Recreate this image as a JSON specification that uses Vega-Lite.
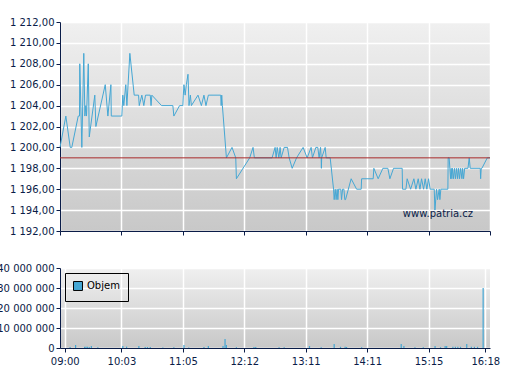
{
  "$schema": "https://vega.github.io/schema/vega-lite/v6.json",
  "background": "white",
  "padding": {"left": -4, "top": 17, "right": 10, "bottom": 5},
  "spacing": 27,
  "resolve": {"scale": {"color": "independent"}, "legend": {"color": "independent"}},
  "config": {
    "locale": {"number": {"decimal": ",", "thousands": " ", "grouping": [3], "currency": ["", ""]}},
    "font": "DejaVu Sans",
    "view": {
      "stroke": null,
      "fill": {"gradient": "linear", "x1": 0, "y1": 0, "x2": 0, "y2": 1,
        "stops": [{"offset": 0, "color": "#f0f0f0"}, {"offset": 1, "color": "#c8c8c8"}]}
    },
    "axis": {
      "labelFont": "DejaVu Sans", "labelFontSize": 10, "labelColor": "#0a1c48",
      "domainColor": "#0a1c48", "tickColor": "#0a1c48", "tickSize": 4, "labelPadding": 2,
      "gridColor": "#ffffff", "gridWidth": 1.5, "gridOpacity": 1, "title": null
    }
  },
  "datasets": {
    "price": [
      {"t":0,"p":1200},{"t":6.0,"p":1203},{"t":10.5,"p":1200},{"t":12.1,"p":1200},{"t":18.7,"p":1203},{"t":20.0,"p":1203},{"t":20.3,"p":1208},{"t":22.4,"p":1200},{"t":24.4,"p":1209},{"t":25.5,"p":1203},{"t":26.5,"p":1204},{"t":27.2,"p":1203},{"t":29.0,"p":1208},{"t":30.0,"p":1201},{"t":35.7,"p":1205},{"t":36.8,"p":1202},{"t":46.4,"p":1206},{"t":49.1,"p":1203},{"t":52.2,"p":1206},{"t":52.6,"p":1203},{"t":63.4,"p":1203},{"t":64.4,"p":1205},{"t":65.4,"p":1204},{"t":67.4,"p":1206},{"t":68.5,"p":1204},{"t":71.5,"p":1209},{"t":75.9,"p":1205},{"t":80.3,"p":1205},{"t":81.0,"p":1204},{"t":83.6,"p":1205},{"t":85.6,"p":1204},{"t":87.3,"p":1205},{"t":92.1,"p":1205},{"t":92.9,"p":1204},{"t":93.7,"p":1205},{"t":103.5,"p":1204},{"t":114.9,"p":1204},{"t":115.9,"p":1203},{"t":121.7,"p":1204},{"t":125.0,"p":1204},{"t":125.5,"p":1205},{"t":126.2,"p":1206},{"t":127.5,"p":1205},{"t":128.8,"p":1206},{"t":130.6,"p":1207},{"t":131.7,"p":1204},{"t":133.2,"p":1205},{"t":134.3,"p":1204},{"t":141.5,"p":1205},{"t":145.2,"p":1204},{"t":148.0,"p":1205},{"t":150.2,"p":1204},{"t":152.8,"p":1205},{"t":166.3,"p":1205},{"t":166.8,"p":1204},{"t":167.4,"p":1205},{"t":168.1,"p":1204},{"t":169.0,"p":1203},{"t":172.5,"p":1199},{"t":178.6,"p":1200},{"t":182.7,"p":1199},{"t":183.4,"p":1197},{"t":197.2,"p":1199},{"t":200.4,"p":1200},{"t":201.7,"p":1199},{"t":218.7,"p":1199},{"t":221.6,"p":1200},{"t":222.6,"p":1199},{"t":223.6,"p":1200},{"t":225.2,"p":1199},{"t":226.4,"p":1200},{"t":227.4,"p":1199},{"t":230.3,"p":1200},{"t":233.5,"p":1200},{"t":235.1,"p":1199},{"t":238.0,"p":1198},{"t":242.2,"p":1199},{"t":248.5,"p":1200},{"t":252.4,"p":1199},{"t":256.3,"p":1200},{"t":257.6,"p":1199},{"t":260.9,"p":1200},{"t":262.8,"p":1200},{"t":264.1,"p":1199},{"t":265.5,"p":1200},{"t":266.1,"p":1199},{"t":266.3,"p":1198},{"t":266.6,"p":1199},{"t":270.0,"p":1200},{"t":271.0,"p":1199},{"t":274.9,"p":1199},{"t":278.2,"p":1196},{"t":278.8,"p":1195},{"t":279.8,"p":1196},{"t":280.7,"p":1195},{"t":281.7,"p":1196},{"t":282.4,"p":1195},{"t":283.1,"p":1196},{"t":285.3,"p":1196},{"t":286.0,"p":1195},{"t":287.0,"p":1196},{"t":288.3,"p":1196},{"t":289.2,"p":1195},{"t":289.9,"p":1195},{"t":295.4,"p":1197},{"t":300.7,"p":1196},{"t":305.2,"p":1196},{"t":305.6,"p":1197},{"t":317.3,"p":1197},{"t":318.0,"p":1198},{"t":322.5,"p":1197},{"t":327.4,"p":1198},{"t":332.6,"p":1198},{"t":334.7,"p":1197},{"t":338.5,"p":1198},{"t":347.5,"p":1198},{"t":347.9,"p":1196},{"t":351.4,"p":1196},{"t":352.7,"p":1197},{"t":356.3,"p":1196},{"t":359.7,"p":1197},{"t":361.8,"p":1196},{"t":364.2,"p":1197},{"t":366.0,"p":1196},{"t":367.7,"p":1197},{"t":369.8,"p":1196},{"t":371.5,"p":1197},{"t":373.2,"p":1196},{"t":375.0,"p":1197},{"t":376.6,"p":1196},{"t":380.8,"p":1196},{"t":381.5,"p":1194},{"t":383.2,"p":1196},{"t":384.2,"p":1195},{"t":385.9,"p":1196},{"t":386.6,"p":1195},{"t":387.6,"p":1196},{"t":394.8,"p":1196},{"t":395.1,"p":1199},{"t":396.1,"p":1199},{"t":397.6,"p":1197},{"t":398.2,"p":1198},{"t":398.9,"p":1197},{"t":399.6,"p":1198},{"t":400.7,"p":1197},{"t":401.7,"p":1198},{"t":402.7,"p":1197},{"t":403.8,"p":1198},{"t":404.8,"p":1197},{"t":405.8,"p":1198},{"t":406.8,"p":1197},{"t":407.9,"p":1198},{"t":409.2,"p":1197},{"t":409.9,"p":1198},{"t":410.9,"p":1197},{"t":412.0,"p":1198},{"t":415.4,"p":1198},{"t":416.7,"p":1199},{"t":417.7,"p":1198},{"t":428.0,"p":1198},{"t":428.4,"p":1197},{"t":429.0,"p":1198},{"t":429.7,"p":1198},{"t":435.2,"p":1199},{"t":438,"p":1199}
    ],
    "volume": [
      {"t":6.0,"v":500000},{"t":12.1,"v":1500000},{"t":22.1,"v":600000},{"t":23.6,"v":600000},{"t":25.2,"v":600000},{"t":27.2,"v":500000},{"t":29.6,"v":1000000},{"t":36.8,"v":400000},{"t":64.4,"v":1000000},{"t":68.2,"v":700000},{"t":80.6,"v":1000000},{"t":87.0,"v":500000},{"t":89.3,"v":500000},{"t":92.1,"v":500000},{"t":104.8,"v":300000},{"t":115.9,"v":400000},{"t":126.2,"v":1500000},{"t":131.4,"v":300000},{"t":148.0,"v":500000},{"t":152.8,"v":1000000},{"t":168.8,"v":1000000},{"t":171.0,"v":4500000},{"t":172.5,"v":1500000},{"t":183.4,"v":400000},{"t":201.3,"v":500000},{"t":203.0,"v":500000},{"t":225.4,"v":400000},{"t":230.3,"v":400000},{"t":254.7,"v":1000000},{"t":266.1,"v":400000},{"t":278.8,"v":2000000},{"t":285.0,"v":600000},{"t":289.5,"v":600000},{"t":290.9,"v":500000},{"t":305.6,"v":400000},{"t":346.5,"v":2000000},{"t":349.3,"v":1000000},{"t":360.8,"v":400000},{"t":369.5,"v":400000},{"t":382.2,"v":1000000},{"t":388.3,"v":400000},{"t":393.4,"v":1000000},{"t":395.1,"v":1000000},{"t":402.0,"v":600000},{"t":404.8,"v":600000},{"t":407.5,"v":600000},{"t":410.5,"v":600000},{"t":417.4,"v":2000000},{"t":422.5,"v":600000},{"t":425.9,"v":600000},{"t":429.4,"v":600000},{"t":435.6,"v":30000000}
    ],
    "ref": [{"p": 1199}],
    "mark": [{"t": 384.6, "p": 1193.6, "label": "www.patria.cz"}]
  },
  "vconcat": [
    {
      "width": 430,
      "height": 209,
      "encoding": {
        "x": {"field": "t", "type": "quantitative",
          "scale": {"domain": [0,63,125,192,251,311,375,438], "range": [0,61.43,122.86,184.29,245.71,307.14,368.57,430], "nice": false},
          "axis": {"values": [0,63,125,192,251,311,375,438], "labels": false, "grid": true}},
        "y": {"field": "p", "type": "quantitative",
          "scale": {"domain": [1192, 1212], "nice": false, "zero": false},
          "axis": {"values": [1192,1194,1196,1198,1200,1202,1204,1206,1208,1210,1212], "format": ",.2f", "grid": true, "labelOverlap": false}}
      },
      "layer": [
        {
          "data": {"name": "price"},
          "mark": {"type": "line", "color": "#45a7d4", "strokeWidth": 1}
        },
        {
          "data": {"name": "ref"},
          "mark": {"type": "rule", "color": "#a82a2a", "strokeWidth": 1},
          "encoding": {"x": {"value": 0}, "x2": {"value": 430}}
        },
        {
          "data": {"name": "mark"},
          "mark": {"type": "text", "font": "DejaVu Sans", "fontSize": 10, "color": "#0a1c48", "align": "center", "baseline": "middle"},
          "encoding": {"text": {"field": "label"}}
        }
      ]
    },
    {
      "width": 430,
      "height": 80,
      "data": {"name": "volume"},
      "mark": {"type": "bar", "size": 1.2},
      "encoding": {
        "x": {"field": "t", "type": "quantitative",
          "scale": {"domain": [0,63,125,192,251,311,375,438], "range": [0,61.43,122.86,184.29,245.71,307.14,368.57,430], "nice": false},
          "axis": {"values": [0,63,125,192,251,311,375,438], "grid": true, "labelFlush": false, "labelPadding": 4,
            "labelExpr": "timeFormat(datetime(2024,0,1,9,datum.value),'%H:%M')"}},
        "y": {"field": "v", "type": "quantitative",
          "scale": {"domain": [0, 40000000], "nice": false},
          "axis": {"values": [0,10000000,20000000,30000000,40000000], "format": ",d", "grid": true}},
        "color": {"datum": "Objem", "type": "nominal",
          "scale": {"range": ["#45a7d4"]},
          "legend": {"orient": "top-left", "offset": 5, "title": null, "strokeColor": "#000000", "padding": 8,
            "symbolType": "square", "symbolSize": 80, "symbolStrokeColor": "#000000", "symbolStrokeWidth": 1, "symbolOpacity": 1,
            "labelFont": "DejaVu Sans", "labelFontSize": 10, "labelColor": "#000000"}}
      }
    }
  ]
}
